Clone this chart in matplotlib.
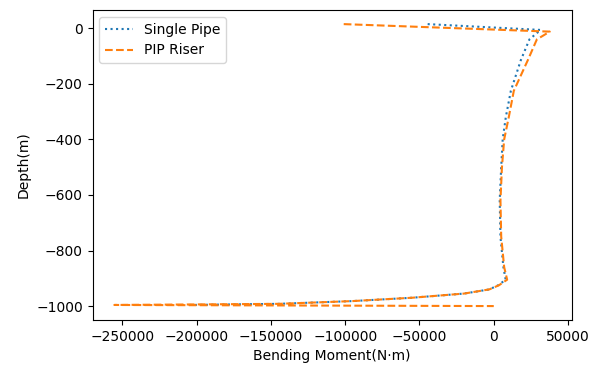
import matplotlib
matplotlib.use('Agg')
import matplotlib.pyplot as plt

# depth (m) vs bending moment (N*m)
depth_single = [15, -6, -40, -115, -225, -320, -400, -500, -620, -750, -860,
                -905, -925, -940, -955, -970, -982, -992, -996]
moment_single = [-44500, 31500, 24000, 18200, 11500, 8100, 6000, 5000, 4000,
                 4500, 6500, 8000, 3000, -3000, -20000, -55000, -95000,
                 -145000, -205000]

depth_pip = [15, -12, -40, -115, -225, -320, -400, -500, -620, -750, -860,
             -905, -925, -940, -955, -970, -982, -992, -996, -1000]
moment_pip = [-101000, 37700, 29000, 22900, 13500, 10100, 7000, 5500, 4500,
              5000, 7000, 9000, 3500, -3000, -20000, -55000, -95000, -145000,
              -255400, 0]

fig = plt.figure(figsize=(6.01, 3.71), dpi=100)
ax = fig.add_axes([0.154, 0.137, 0.797, 0.836])

ax.plot(moment_single, depth_single, ':', color='C0', label='Single Pipe')
ax.plot(moment_pip, depth_pip, '--', color='C1', label='PIP Riser')

ax.set_xlabel('Bending Moment(N·m)')
ax.set_ylabel('Depth(m)')
ax.legend(loc='upper left')

fig.savefig('out.png', dpi=100)
